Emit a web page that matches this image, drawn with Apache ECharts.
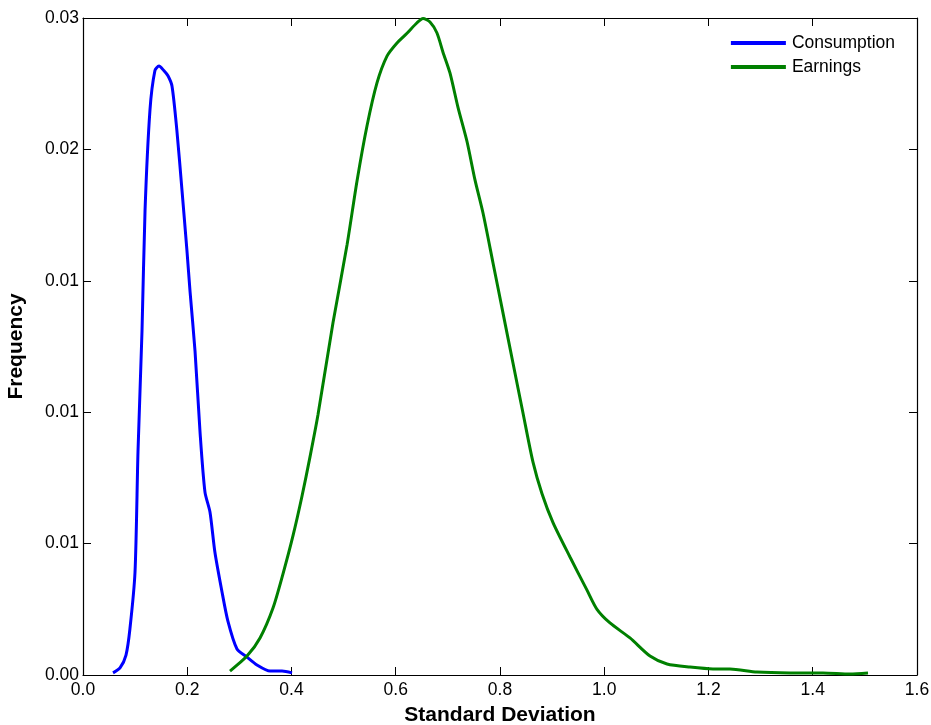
<!DOCTYPE html>
<html>
<head>
<meta charset="utf-8">
<script src="https://cdn.jsdelivr.net/npm/echarts@6/dist/echarts.min.js"></script>
<style>html,body{margin:0;padding:0;background:#fff}#c{width:931px;height:725px}</style>
</head>
<body>
<div id="c"></div>
<script>
const seriesNames = ['Consumption', 'Earnings'];
const consumptionX = [0.0576,0.071,0.0825,0.090,0.0998,0.1055,0.1132,0.119,0.1285,0.138,0.1458,0.155,0.163,0.1707,0.180,0.190,0.1995,0.2053,0.2149,0.2245,0.234,0.2436,0.253,0.2667,0.278,0.2954,0.3146,0.3338,0.3588,0.3818,0.401];
const consumptionY = [0.00008,0.00027,0.00076,0.00175,0.00392,0.00849,0.01309,0.01766,0.0215,0.0230,0.02317,0.0230,0.0228,0.02241,0.02074,0.01842,0.01613,0.01461,0.01233,0.00925,0.00696,0.0062,0.00468,0.00316,0.00205,0.00099,0.00068,0.00038,0.00015,0.00015,0.00008];
const earningsX = [0.282,0.3146,0.3396,0.3645,0.3837,0.4029,0.4201,0.4355,0.4508,0.4796,0.5065,0.5257,0.5448,0.564,0.5832,0.6024,0.6216,0.6408,0.6523,0.6657,0.6791,0.6906,0.704,0.7194,0.7367,0.752,0.7674,0.7866,0.8058,0.8249,0.8441,0.8633,0.8806,0.9017,0.9343,0.9669,0.9861,1.011,1.0494,1.0878,1.1204,1.1645,1.2086,1.2412,1.293,1.3564,1.4197,1.4715,1.506];
const earningsY = [0.00015,0.00072,0.00141,0.00255,0.00385,0.0053,0.0068,0.0083,0.0099,0.0134,0.01636,0.0188,0.02089,0.02253,0.02355,0.02405,0.02442,0.02482,0.02498,0.02485,0.02443,0.0237,0.02291,0.0216,0.0203,0.01884,0.01758,0.01568,0.01377,0.01187,0.00997,0.0081,0.0069,0.0058,0.00449,0.00323,0.0025,0.00198,0.00141,0.00072,0.00042,0.0003,0.00023,0.00023,0.00011,0.00008,0.00008,0.00004,0.00008];
const xTickLabels = ['0.0','0.2','0.4','0.6','0.8','1.0','1.2','1.4','1.6'];
const yTickLabels = ['0.00','0.01','0.01','0.01','0.02','0.03'];

const xMin = 0, xMax = 1.6, xInt = 0.2;
const yMin = 0, yMax = 0.025, yInt = 0.005;
const zip = (a, b) => a.map((v, i) => [v, b[i]]);
const font = '"Liberation Sans", Arial, Helvetica, sans-serif';

const chart = echarts.init(document.getElementById('c'), null, {renderer: 'canvas'});
const tickCommon = {show: true, inside: true, length: 8, lineStyle: {color: '#000', width: 1}};
const lineCommon = {show: true, onZero: false, lineStyle: {color: '#000', width: 1.2}};
chart.setOption({
  animation: false,
  backgroundColor: '#fff',
  grid: {left: 83, right: 14, top: 18, bottom: 50, containLabel: false, outerBoundsMode: 'none'},
  legend: {
    orient: 'vertical', right: 31, top: 29, align: 'left',
    icon: 'rect', itemWidth: 55, itemHeight: 4, itemGap: 6,
    textStyle: {fontFamily: font, fontSize: 17.5, color: '#000', padding: [0,0,0,1]},
    data: seriesNames
  },
  xAxis: [{
    type: 'value', min: xMin, max: xMax, interval: xInt,
    name: 'Standard Deviation', nameLocation: 'middle', nameGap: 30,
    nameTextStyle: {fontFamily: font, fontSize: 21, fontWeight: 'bold', color: '#000'},
    axisLine: lineCommon, axisTick: tickCommon, splitLine: {show: false},
    axisLabel: {fontFamily: font, fontSize: 17.5, color: '#000', margin: 6,
      formatter: v => xTickLabels[Math.round((v - xMin) / xInt)]}
  }, {
    type: 'value', position: 'top', min: xMin, max: xMax, interval: xInt,
    axisLine: lineCommon, axisTick: tickCommon, splitLine: {show: false}, axisLabel: {show: false}
  }],
  yAxis: [{
    type: 'value', min: yMin, max: yMax, interval: yInt,
    name: 'Frequency', nameLocation: 'middle', nameGap: 56, nameRotate: 90,
    nameTextStyle: {fontFamily: font, fontSize: 21, fontWeight: 'bold', color: '#000'},
    axisLine: lineCommon, axisTick: tickCommon, splitLine: {show: false},
    axisLabel: {fontFamily: font, fontSize: 17.5, color: '#000', margin: 4,
      formatter: v => yTickLabels[Math.round((v - yMin) / yInt)]}
  }, {
    type: 'value', position: 'right', min: yMin, max: yMax, interval: yInt,
    axisLine: lineCommon, axisTick: tickCommon, splitLine: {show: false}, axisLabel: {show: false}
  }],
  series: [{
    name: seriesNames[0], type: 'line', data: zip(consumptionX, consumptionY),
    showSymbol: false, symbol: 'none', smooth: 0.25,
    color: '#0000ff', lineStyle: {color: '#0000ff', width: 3}
  }, {
    name: seriesNames[1], type: 'line', data: zip(earningsX, earningsY),
    showSymbol: false, symbol: 'none', smooth: 0.25,
    color: '#008000', lineStyle: {color: '#008000', width: 3}
  }]
});
</script>
</body>
</html>
